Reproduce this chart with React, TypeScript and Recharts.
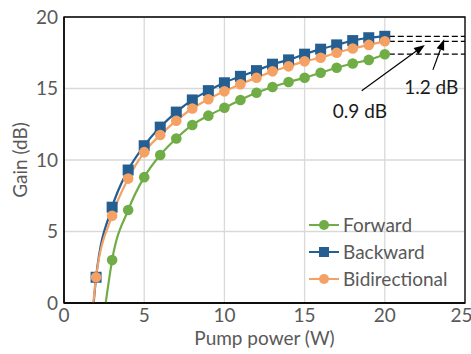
import React from "react";
import {
  LineChart,
  Line,
  XAxis,
  YAxis,
  CartesianGrid,
  ReferenceLine,
  ReferenceArea,
  ReferenceDot,
} from "recharts";

const pumpPower = [2, 3, 4, 5, 6, 7, 8, 9, 10, 11, 12, 13, 14, 15, 16, 17, 18, 19, 20];
const forwardGain = [null, 3.0, 6.5, 8.8, 10.35, 11.5, 12.45, 13.1, 13.65, 14.2, 14.7, 15.1, 15.45, 15.75, 16.1, 16.45, 16.75, 17.0, 17.4];
const backwardGain = [1.8, 6.7, 9.3, 11.0, 12.3, 13.35, 14.2, 14.85, 15.4, 15.85, 16.25, 16.7, 17.0, 17.4, 17.75, 18.05, 18.35, 18.55, 18.65];
const bidirectionalGain = [1.8, 6.1, 8.7, 10.55, 11.75, 12.75, 13.6, 14.25, 14.8, 15.3, 15.75, 16.2, 16.55, 16.9, 17.15, 17.5, 17.8, 18.05, 18.3];
// pump power where each fitted curve crosses 0 dB
const forwardFitZero = 2.6;
const backwardFitZero = 1.85;
const bidirectionalFitZero = 1.83;

const xTicks = [0, 5, 10, 15, 20, 25];
const yTicks = [0, 5, 10, 15, 20];

const seriesNames = ["Forward", "Backward", "Bidirectional"];
const colors = ["#70AD47", "#255E91", "#F4A163"];
const markers = ["circle", "square", "circle"];

const annotationLabels = ["0.9 dB", "1.2 dB"];
const annotationText = [
  { x: 18.45, y: 13.45 },
  { x: 22.9, y: 15.15 },
];
const annotationArrow = [
  { x1: 18.56, y1: 14.85, x2: 22.5, y2: 18.05 },
  { x1: 23.0, y1: 16.3, x2: 23.7, y2: 18.45 },
];
const dashStartX = 20.25;
const axisMaxX = 25;

const FONT = "Lato, 'Open Sans', sans-serif";
const TICK_COLOR = "#595959";
const FS = 19;

function buildSeries(gains: (number | null)[], zero: number) {
  const pts: any[] = [{ x: zero, y: 0, fit: true }];
  pumpPower.forEach((p, i) => {
    const g = gains[i];
    if (g !== null && g !== undefined) pts.push({ x: p, y: g });
  });
  return pts;
}

const seriesData = [
  buildSeries(forwardGain, forwardFitZero),
  buildSeries(backwardGain, backwardFitZero),
  buildSeries(bidirectionalGain, bidirectionalFitZero),
];

function makeDot(kind: string, color: string) {
  return (props: any) => {
    const { cx, cy, payload, index } = props;
    if (payload && payload.fit) return <g key={`d-${index}`} />;
    if (kind === "square") {
      return <rect key={`d-${index}`} x={cx - 5.5} y={cy - 5.5} width={11} height={11} fill={color} />;
    }
    return <circle key={`d-${index}`} cx={cx} cy={cy} r={5.3} fill={color} />;
  };
}

function Arrow(props: any) {
  const { x1, y1, x2, y2 } = props;
  const ang = Math.atan2(y2 - y1, x2 - x1);
  const len = 11;
  const half = 4;
  const bx = x2 - len * Math.cos(ang);
  const by = y2 - len * Math.sin(ang);
  const px = -Math.sin(ang) * half;
  const py = Math.cos(ang) * half;
  return (
    <g>
      <line x1={x1} y1={y1} x2={bx} y2={by} stroke="#000" strokeWidth={1.2} />
      <polygon points={`${x2},${y2} ${bx + px},${by + py} ${bx - px},${by - py}`} fill="#000" />
    </g>
  );
}

function LegendBox() {
  return (
    <div
      style={{
        position: "absolute",
        left: 309,
        top: 211,
        fontFamily: FONT,
        fontSize: FS,
        color: TICK_COLOR,
        lineHeight: "27px",
      }}
    >
      {seriesNames.map((name, i) => (
        <div key={name} style={{ display: "flex", alignItems: "center", height: 27 }}>
          <svg width={32} height={14} style={{ marginRight: 2 }}>
            <line x1={0} y1={7} x2={30} y2={7} stroke={colors[i]} strokeWidth={2} />
            {markers[i] === "square" ? (
              <rect x={10} y={2} width={10} height={10} fill={colors[i]} />
            ) : (
              <circle cx={15} cy={7} r={5} fill={colors[i]} />
            )}
          </svg>
          <span>{name}</span>
        </div>
      ))}
    </div>
  );
}

export default function App() {
  const lastGains = [
    backwardGain[backwardGain.length - 1],
    bidirectionalGain[bidirectionalGain.length - 1],
    forwardGain[forwardGain.length - 1] as number,
  ];
  return (
    <div style={{ position: "absolute", left: 0, top: 0, width: 471, height: 354, background: "#fff" }}>
      <LineChart
        width={471}
        height={354}
        margin={{ top: 17, right: 6, left: 0, bottom: 0 }}
        style={{ fontFamily: FONT }}
      >
        <CartesianGrid stroke="#D9D9D9" strokeWidth={1.3} />
        <XAxis
          type="number"
          dataKey="x"
          domain={[0, 25]}
          ticks={xTicks}
          allowDuplicatedCategory={false}
          height={51}
          tickLine={false}
          tickSize={0}
          tickMargin={6}
          axisLine={{ stroke: "#000", strokeWidth: 1.3 }}
          tick={{ fill: TICK_COLOR, fontSize: FS, fontFamily: FONT }}
          label={{
            value: "Pump power (W)",
            position: "insideBottom",
            offset: 9,
            style: { fill: TICK_COLOR, fontSize: FS, fontFamily: FONT },
          }}
        />
        <YAxis
          type="number"
          domain={[0, 20]}
          ticks={yTicks}
          width={64}
          tickLine={false}
          tickSize={0}
          tickMargin={6}
          axisLine={{ stroke: "#000", strokeWidth: 1.3 }}
          tick={{ fill: TICK_COLOR, fontSize: FS, fontFamily: FONT }}
          label={{
            value: "Gain (dB)",
            angle: -90,
            position: "insideLeft",
            offset: 20,
            style: { fill: TICK_COLOR, fontSize: FS, fontFamily: FONT, textAnchor: "middle" },
          }}
        />
        <ReferenceArea x1={0} x2={25} y1={0} y2={20} fill="none" stroke="#000" strokeWidth={1.3} ifOverflow="visible" />
        {seriesData.map((d, i) => (
          <Line
            key={seriesNames[i]}
            data={d}
            dataKey="y"
            name={seriesNames[i]}
            type="monotone"
            stroke={colors[i]}
            strokeWidth={2.2}
            dot={makeDot(markers[i], colors[i])}
            activeDot={false}
            isAnimationActive={false}
          />
        ))}
        {lastGains.map((g, i) => (
          <ReferenceLine
            key={`dash-${i}`}
            segment={[
              { x: dashStartX, y: g },
              { x: axisMaxX, y: g },
            ]}
            stroke="#000"
            strokeWidth={1.3}
            strokeDasharray="6 3"
          />
        ))}
        {annotationArrow.map((a, i) => (
          <ReferenceLine
            key={`arrow-${i}`}
            segment={[
              { x: a.x1, y: a.y1 },
              { x: a.x2, y: a.y2 },
            ]}
            shape={(p: any) => <Arrow {...p} />}
          />
        ))}
        {annotationLabels.map((t, i) => (
          <ReferenceDot
            key={`lbl-${i}`}
            x={annotationText[i].x}
            y={annotationText[i].y}
            r={0}
            shape={(p: any) => (
              <text
                x={p.cx}
                y={p.cy}
                textAnchor="middle"
                dominantBaseline="central"
                fontSize={FS}
                fontFamily={FONT}
                fill="#1a1a1a"
              >
                {t}
              </text>
            )}
          />
        ))}
      </LineChart>
      <LegendBox />
    </div>
  );
}
